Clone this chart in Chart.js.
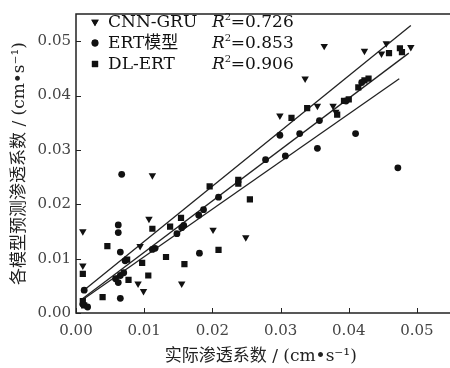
<!DOCTYPE html>
<html>
<head>
<meta charset="utf-8">
<script src="https://cdn.jsdelivr.net/npm/chart.js@4/dist/chart.umd.min.js"></script>
<style>
  html, body { margin: 0; padding: 0; background: #fff; }
  #wrap { width: 450px; height: 368px; }
</style>
</head>
<body>
<div id="wrap"><canvas id="scatterChart"></canvas></div>
<script>
var cnnGru = [[0.0010,0.0150],[0.0010,0.0087],[0.0107,0.0173],[0.0094,0.0123],[0.0091,0.0054],
  [0.0099,0.0040],[0.0112,0.0253],[0.0155,0.0054],[0.0201,0.0153],[0.0249,0.0139],
  [0.0299,0.0363],[0.0336,0.0431],[0.0354,0.0381],[0.0377,0.0381],[0.0381,0.0370],
  [0.0364,0.0491],[0.0423,0.0482],[0.0455,0.0496],[0.0448,0.0477],[0.0491,0.0489]];
var ertModel = [[0.0012,0.0042],[0.0010,0.0016],[0.0017,0.0011],[0.0062,0.0162],[0.0062,0.0148],
  [0.0065,0.0112],[0.0072,0.0096],[0.0058,0.0063],[0.0065,0.0069],[0.0070,0.0074],
  [0.0062,0.0056],[0.0065,0.0027],[0.0067,0.0255],[0.0112,0.0117],[0.0116,0.0119],
  [0.0148,0.0146],[0.0155,0.0157],[0.0158,0.0161],[0.0180,0.0180],[0.0187,0.0190],
  [0.0209,0.0213],[0.0181,0.0110],[0.0278,0.0282],[0.0307,0.0289],[0.0299,0.0327],
  [0.0328,0.0330],[0.0354,0.0303],[0.0357,0.0354],[0.0396,0.0390],[0.0419,0.0424],
  [0.0410,0.0330],[0.0472,0.0267]];
var dlErt = [[0.0010,0.0072],[0.0010,0.0022],[0.0012,0.0014],[0.0039,0.0029],[0.0046,0.0123],
  [0.0075,0.0098],[0.0077,0.0061],[0.0097,0.0092],[0.0106,0.0069],[0.0112,0.0155],
  [0.0132,0.0103],[0.0138,0.0159],[0.0154,0.0175],[0.0159,0.0090],[0.0196,0.0233],
  [0.0209,0.0116],[0.0238,0.0245],[0.0238,0.0238],[0.0255,0.0209],[0.0316,0.0359],
  [0.0339,0.0377],[0.0383,0.0365],[0.0393,0.0390],[0.0400,0.0393],[0.0414,0.0415],
  [0.0423,0.0428],[0.0429,0.0431],[0.0459,0.0478],[0.0475,0.0487],[0.0478,0.0480]];

// fitted lines (end points)
var fitTop = [[0.0008,0.0038],[0.0491,0.0529]];
var fitMid = [[0.0008,0.0025],[0.0488,0.0478]];
var fitLow = [[0.0008,0.0023],[0.0474,0.0431]];

var seriesNames = ['CNN-GRU', 'ERT模型', 'DL-ERT'];
var r2Values = ['0.726', '0.853', '0.906'];
var tickValues = [0, 0.01, 0.02, 0.03, 0.04, 0.05];

function toXY(arr){
  return arr.map(function(p){ return {x:p[0], y:p[1]}; });
}

var serif = "'DejaVu Serif', 'Noto Sans CJK SC', serif";

// axes box with inward ticks, plus the legend block in the top left
var framePlugin = {
  id: 'frame',
  afterDraw: function(chart){
    var ctx = chart.ctx;
    var a = chart.chartArea;
    var xs = chart.scales.x, ys = chart.scales.y;
    ctx.save();
    ctx.strokeStyle = '#222';
    ctx.lineWidth = 1.5;
    ctx.beginPath();
    ctx.moveTo(chart.width, a.top);
    ctx.lineTo(a.left, a.top);
    ctx.lineTo(a.left, a.bottom);
    ctx.lineTo(chart.width, a.bottom);
    ctx.stroke();
    ctx.lineWidth = 1;
    tickValues.forEach(function(v){
      var px = Math.round(xs.getPixelForValue(v)) + 0.5;
      ctx.beginPath(); ctx.moveTo(px, a.bottom); ctx.lineTo(px, a.bottom - 5); ctx.stroke();
      var py = Math.round(ys.getPixelForValue(v)) + 0.5;
      ctx.beginPath(); ctx.moveTo(a.left, py); ctx.lineTo(a.left + 5, py); ctx.stroke();
    });

    // legend
    var rows = [22, 43, 64];
    ctx.textBaseline = 'middle';
    ctx.fillStyle = '#111';
    for (var i = 0; i < 3; i++) {
      var ds = chart.data.datasets[i];
      Chart.helpers.drawPoint(ctx, {
        pointStyle: ds.pointStyle, rotation: ds.rotation || 0,
        radius: ds.pointRadius, borderWidth: 0
      }, 95, rows[i]);
      ctx.fill();
      ctx.font = "17px " + serif;
      ctx.textAlign = 'left';
      ctx.fillText(seriesNames[i], 108, rows[i] + 1);
      ctx.font = "italic 17px " + serif;
      ctx.fillText('R', 212, rows[i] + 1);
      var rw = ctx.measureText('R').width;
      ctx.font = "10px " + serif;
      ctx.fillText('2', 212 + rw, rows[i] - 5);
      ctx.font = "17px " + serif;
      ctx.fillText('=' + r2Values[i], 212 + rw + 6, rows[i] + 1);
    }
    ctx.restore();
  }
};

function lineSet(pts){
  return {type:'line', data: toXY(pts), borderColor:'#222', borderWidth:1.3,
          pointRadius:0, fill:false, showLine:true};
}

window.onload = function(){
  var config = {
    type: 'scatter',
    data: {
      datasets: [
        {label: seriesNames[0], data: toXY(cnnGru), pointStyle:'triangle', rotation:180,
         pointRadius:4.3, backgroundColor:'#111', borderWidth:0},
        {label: seriesNames[1], data: toXY(ertModel), pointStyle:'circle',
         pointRadius:3.4, backgroundColor:'#111', borderWidth:0},
        {label: seriesNames[2], data: toXY(dlErt), pointStyle:'rect',
         pointRadius:4.4, backgroundColor:'#111', borderWidth:0},
        lineSet(fitTop), lineSet(fitMid), lineSet(fitLow)
      ]
    },
    options: {
      responsive: false,
      animation: false,
      layout: {padding: {top: 8, right: 0, left: 0, bottom: 0}},
      plugins: {legend: {display:false}, tooltip: {enabled:false}},
      scales: {
        x: {
          type:'linear', min:0, max:0.0542,
          border: {display:false},
          grid: {display:false, drawTicks:false},
          afterBuildTicks: function(s){ s.ticks = tickValues.map(function(v){ return {value:v}; }); },
          afterFit: function(s){ s.height = 55; },
          ticks: {padding:9, color:'#444', font:{family:serif, size:15},
                  maxRotation:0, callback: function(v){ return Number(v).toFixed(2); }},
          title: {display:true, text:'实际渗透系数 / (cm•s⁻¹)', color:'#222',
                  font:{family:serif, size:17}, padding:{top:0, bottom:1}}
        },
        y: {
          type:'linear', min:0, max:0.055,
          border: {display:false},
          grid: {display:false, drawTicks:false},
          afterBuildTicks: function(s){ s.ticks = tickValues.map(function(v){ return {value:v}; }); },
          afterFit: function(s){ s.width = 76; },
          ticks: {padding:5, color:'#444', font:{family:serif, size:15},
                  callback: function(v){ return Number(v).toFixed(2); }},
          title: {display:true, text:'各模型预测渗透系数 / (cm•s⁻¹)', color:'#222',
                  font:{family:serif, size:17}, padding:{top:9, bottom:0}}
        }
      }
    },
    plugins: [framePlugin]
  };
  var cv = document.getElementById('scatterChart');
  cv.width = 450; cv.height = 368;
  new Chart(cv.getContext('2d'), config);
};
</script>
</body>
</html>
